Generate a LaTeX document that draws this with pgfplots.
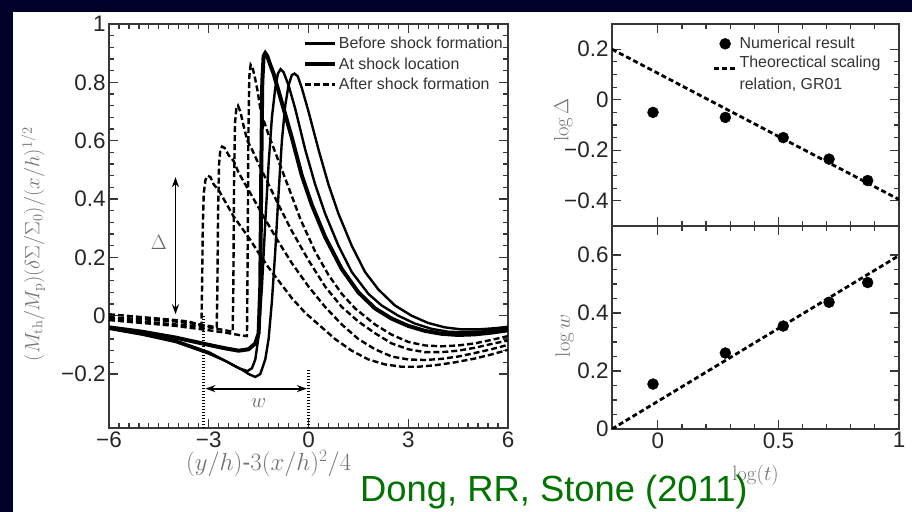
\documentclass[border=0pt]{standalone}
\usepackage[no-math]{fontspec}
\setmainfont{Liberation Sans}
\usepackage{pgfplots}
\pgfplotsset{compat=1.18}
\usetikzlibrary{arrows.meta}

\definecolor{navy}{RGB}{0,0,40}
\definecolor{dgreen}{RGB}{0,115,0}
\definecolor{axgray}{RGB}{55,55,55}

\pgfplotsset{
  panel/.style={
    scale only axis,
    axis line style={axgray, line width=1.4bp},
    tick style={axgray, line width=1.2bp},
    major tick length=9bp, minor tick length=5bp,
    tick align=inside,
    ticklabel style={font=\fontsize{22.5}{26}\selectfont, text=black!85},
    label style={font=\fontsize{21}{25}\selectfont, text=black!55},
  },
  legline/.style={legend image code/.code={\draw[##1] (0bp,0bp) -- (#1,0bp);}},
  thinsolid/.style={black, line width=2.4bp},
  thicksolid/.style={black, line width=4bp},
  dashcurve/.style={black, line width=2.4bp, dash pattern=on 6bp off 3bp},
}

\begin{document}
\begin{tikzpicture}
\useasboundingbox (0,0) rectangle (912bp,512bp);
\fill[navy] (0,0) rectangle (912bp,512bp);
\fill[white] (13bp,0) rectangle (912bp,500bp);

% left panel: wave profiles
\begin{axis}[panel,
  at={(109bp,84bp)}, anchor=south west, width=399bp, height=404bp,
  xmin=-6, xmax=6, ymin=-0.385, ymax=1,
  xtick={-6,-3,0,3,6}, xticklabels={−6,−3,0,3,6},
  ytick={-0.2,0,0.2,0.4,0.6,0.8,1}, yticklabels={−0.2,0,0.2,0.4,0.6,0.8,1},
  minor x tick num=9, minor y tick num=4,
  xlabel={$(y/h)$-$3(x/h)^2/4$},
  xlabel style={at={(axis description cs:0.40,-0.087)}, anchor=center, font=\fontsize{24}{28}\selectfont},
  ylabel={$(M_{\rm th}/M_{\rm p})(\delta\Sigma/\Sigma_0)/(x/h)^{1/2}$},
  ylabel style={at={(axis description cs:-0.19,0.455)}, anchor=center, font=\fontsize{22}{26}\selectfont},
  legend style={draw=none, fill=none, at={(axis description cs:0.478,0.978)}, anchor=north west,
    font=\fontsize{16}{18}\selectfont, text=black!80, row sep=3.5bp},
  legend cell align=left,
]
\addplot[thinsolid, legline=30bp] coordinates {
(-6,-0.045) (-5,-0.065) (-4,-0.09) (-3,-0.13) (-2.5,-0.155) (-2,-0.185) (-1.8,-0.2)
(-1.6,-0.21) (-1.45,-0.2) (-1.3,-0.15) (-1.2,-0.08) (-1.1,0.05) (-1,0.22) (-0.9,0.42)
(-0.8,0.6) (-0.7,0.72) (-0.6,0.79) (-0.5,0.825) (-0.42,0.83) (-0.32,0.82) (-0.2,0.78)
(0,0.7) (0.3,0.57) (0.6,0.45) (0.9,0.35) (1.3,0.24) (1.7,0.15) (2.1,0.09) (2.6,0.035)
(3.1,0) (3.6,-0.025) (4.1,-0.04) (4.6,-0.047) (5.1,-0.047) (5.6,-0.043) (6,-0.038)};
\addlegendentry{Before shock formation}
\addplot[thicksolid, legline=30bp] coordinates {
(-6,-0.04) (-5,-0.055) (-4,-0.075) (-3,-0.1) (-2.5,-0.112) (-2.1,-0.12) (-1.8,-0.115)
(-1.6,-0.095) (-1.5,-0.06) (-1.45,0.1) (-1.42,0.5) (-1.39,0.8) (-1.35,0.89) (-1.3,0.9)
(-1.24,0.89) (-1.15,0.86) (-1.05,0.83) (-0.9,0.77) (-0.75,0.71) (-0.5,0.61) (-0.2,0.48)
(0.1,0.38) (0.5,0.27) (1,0.16) (1.5,0.08) (2,0.025) (2.5,-0.01) (3,-0.035) (3.5,-0.052)
(4,-0.062) (4.5,-0.066) (5,-0.064) (5.5,-0.058) (6,-0.05)};
\addlegendentry{At shock location}
\addplot[dashcurve, legline=30bp] coordinates {
(-6,-0.015) (-5,-0.025) (-4,-0.035) (-3,-0.05) (-2.5,-0.058) (-2,-0.068) (-1.85,-0.07)
(-1.83,0.2) (-1.81,0.6) (-1.78,0.82) (-1.74,0.86) (-1.68,0.85) (-1.6,0.81) (-1.53,0.77)
(-1.45,0.71) (-1.38,0.68) (-1.2,0.62) (-0.9,0.53) (-0.6,0.44) (-0.24,0.33) (0.2,0.22)
(0.6,0.14) (1,0.075) (1.4,0.025) (2,-0.03) (2.5,-0.065) (3,-0.09) (3.5,-0.102) (4,-0.105)
(4.5,-0.102) (5,-0.095) (5.5,-0.083) (6,-0.07)};
\addlegendentry{After shock formation}
\addplot[thinsolid, forget plot] coordinates {
(-6,-0.04) (-5,-0.06) (-4,-0.085) (-3,-0.125) (-2.5,-0.155) (-2.1,-0.18) (-1.84,-0.19)
(-1.7,-0.18) (-1.6,-0.15) (-1.5,-0.07) (-1.4,0.1) (-1.3,0.32) (-1.2,0.52) (-1.1,0.68)
(-1,0.78) (-0.92,0.83) (-0.84,0.845) (-0.75,0.835) (-0.6,0.79) (-0.4,0.71) (-0.1,0.57)
(0.2,0.45) (0.5,0.35) (0.9,0.24) (1.3,0.15) (1.8,0.075) (2.2,0.035) (2.7,0) (3.2,-0.027)
(3.7,-0.045) (4.2,-0.055) (4.7,-0.057) (5.2,-0.054) (5.6,-0.048) (6,-0.04)};
\addplot[dashcurve, forget plot] coordinates {
(-6,-0.01) (-5,-0.02) (-4,-0.03) (-3,-0.04) (-2.5,-0.05) (-2.28,-0.055) (-2.26,0.1)
(-2.24,0.45) (-2.21,0.66) (-2.17,0.71) (-2.12,0.72) (-2.05,0.7) (-1.95,0.65) (-1.84,0.6)
(-1.7,0.57) (-1.5,0.52) (-1.2,0.45) (-0.9,0.38) (-0.5,0.29) (0,0.19) (0.5,0.1) (1,0.03)
(1.5,-0.02) (2,-0.06) (2.5,-0.095) (3,-0.115) (3.5,-0.125) (4,-0.125) (4.5,-0.12)
(5,-0.11) (5.5,-0.097) (6,-0.085)};
\addplot[dashcurve, forget plot] coordinates {
(-6,-0.005) (-5,-0.012) (-4,-0.02) (-3.3,-0.03) (-3,-0.035) (-2.76,-0.04) (-2.74,0.1)
(-2.72,0.35) (-2.69,0.52) (-2.65,0.57) (-2.6,0.58) (-2.52,0.575) (-2.4,0.55) (-2.25,0.53)
(-2.1,0.49) (-1.9,0.45) (-1.65,0.4) (-1.35,0.34) (-0.94,0.26) (-0.5,0.18) (0,0.1)
(0.5,0.03) (1,-0.03) (1.5,-0.08) (2,-0.115) (2.5,-0.14) (3,-0.15) (3.5,-0.152) (4,-0.148)
(4.5,-0.14) (5,-0.128) (5.5,-0.115) (6,-0.1)};
\addplot[dashcurve, forget plot] coordinates {
(-6,0.005) (-5.5,0) (-5,-0.005) (-4.5,-0.01) (-4,-0.015) (-3.6,-0.02) (-3.3,-0.03)
(-3.22,-0.03) (-3.2,0.1) (-3.18,0.3) (-3.15,0.42) (-3.1,0.465) (-3.03,0.48) (-2.95,0.475)
(-2.85,0.45) (-2.7,0.43) (-2.55,0.4) (-2.4,0.37) (-2.25,0.34) (-2,0.3) (-1.75,0.26)
(-1.5,0.215) (-1.2,0.165) (-0.9,0.12) (-0.5,0.06) (-0.1,0.01) (0.4,-0.04) (0.8,-0.08)
(1.3,-0.12) (1.8,-0.15) (2.3,-0.167) (2.8,-0.175) (3.3,-0.175) (3.8,-0.17) (4.4,-0.16)
(5,-0.147) (5.5,-0.133) (6,-0.117)};
% annotations: amplitude and width markers
\draw[black, line width=1.8bp, {Stealth[length=10bp,width=7bp]}-{Stealth[length=10bp,width=7bp]}]
  (axis cs:-4,0.005) -- (axis cs:-4,0.475);
\node[font=\fontsize{21}{25}\selectfont, text=black!60] at (axis cs:-4.5,0.25) {$\Delta$};
\draw[black, line width=3bp, dash pattern=on 1.5bp off 1.5bp] (axis cs:-3.15,-0.385) -- (axis cs:-3.15,0);
\draw[black, line width=3bp, dash pattern=on 1.5bp off 1.5bp] (axis cs:0,-0.385) -- (axis cs:0,-0.18);
\draw[black, line width=1.8bp, {Stealth[length=10bp,width=7bp]}-{Stealth[length=10bp,width=7bp]}]
  (axis cs:-3.1,-0.25) -- (axis cs:-0.05,-0.25);
\node[font=\fontsize{21}{25}\selectfont, text=black!60] at (axis cs:-1.5,-0.3) {$w$};
\end{axis}

% right top: amplitude scaling
\begin{axis}[panel,
  at={(612bp,286bp)}, anchor=south west, width=287bp, height=202bp,
  xmin=-0.19, xmax=1, ymin=-0.5, ymax=0.3,
  xtick={0,0.5,1}, xticklabels={},
  ytick={-0.4,-0.2,0,0.2}, yticklabels={−0.4,−0.2,0,0.2},
  minor x tick num=4, minor y tick num=3,
  ylabel={$\log\Delta$},
  ylabel style={at={(axis description cs:-0.17,0.525)}, anchor=center},
  legend style={draw=none, fill=none, at={(axis description cs:0.34,0.955)}, anchor=north west,
    font=\fontsize{16}{18}\selectfont, text=black!80, row sep=1bp},
  legend cell align=left,
]
\addplot[only marks, mark=*, mark size=5.5bp, black,
  legend image code/.code={\fill[black] (11bp,0bp) circle (5.5bp);}] coordinates {
(-0.02,-0.05) (0.28,-0.07) (0.52,-0.15) (0.71,-0.235) (0.87,-0.32)};
\addlegendentry{Numerical result}
\addplot[black, line width=2.8bp, dash pattern=on 5bp off 3bp, legline=22bp] coordinates {
(-0.19,0.2) (1,-0.395)};
\addlegendentry{\begin{tabular}{@{}l@{}}Theorectical scaling\\[4bp]relation, GR01\end{tabular}}
\end{axis}

% right bottom: width scaling
\begin{axis}[panel,
  at={(612bp,83bp)}, anchor=south west, width=287bp, height=203bp,
  xmin=-0.19, xmax=1, ymin=0, ymax=0.7,
  xtick={0,0.5,1}, xticklabels={0,0.5,1},
  ytick={0,0.2,0.4,0.6}, yticklabels={0,0.2,0.4,0.6},
  minor x tick num=4, minor y tick num=3,
  xlabel={$\log(t)$},
  xlabel style={at={(axis description cs:0.5,-0.23)}, anchor=center},
  ylabel={$\log w$},
  ylabel style={at={(axis description cs:-0.165,0.46)}, anchor=center},
]
\addplot[only marks, mark=*, mark size=5.5bp, black] coordinates {
(-0.02,0.155) (0.28,0.262) (0.52,0.355) (0.71,0.437) (0.87,0.505)};
\addplot[black, line width=2.8bp, dash pattern=on 5bp off 3bp] coordinates {
(-0.19,0) (1,0.598)};
\end{axis}

\node[anchor=base west, inner sep=0, text=dgreen, font=\fontsize{36.5}{40}\selectfont]
  at (360bp,11bp) {Dong, RR, Stone (2011)};
\end{tikzpicture}
\end{document}
